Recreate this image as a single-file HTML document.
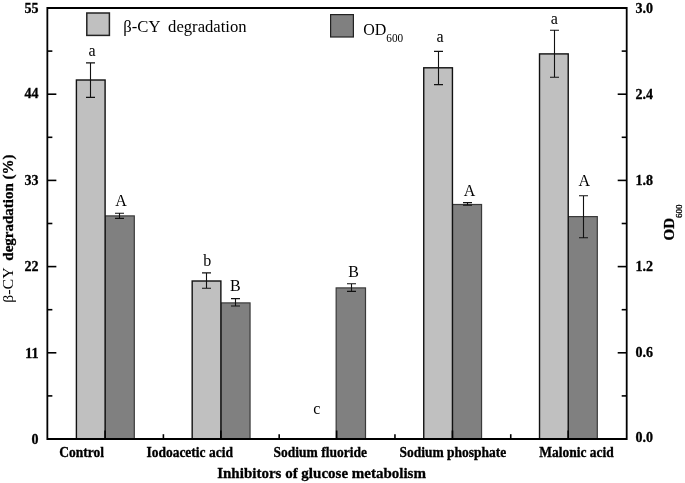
<!DOCTYPE html><html><head><meta charset="utf-8"><style>html,body{margin:0;padding:0;background:#fff;}svg{display:block;filter:grayscale(1)}text{font-family:"Liberation Serif",serif;white-space:pre;}text[font-weight="bold"]{stroke:#000;stroke-width:0.3px;}</style></head><body>
<svg width="685" height="483" viewBox="0 0 685 483">
<rect width="685" height="483" fill="#fff"/>
<rect x="105.10" y="215.90" width="29.20" height="223.10" fill="#808080" stroke="#3a3a3a" stroke-width="1.2"/>
<rect x="76.40" y="80.00" width="28.70" height="359.00" fill="#c0c0c0" stroke="#111" stroke-width="1.4"/>
<rect x="220.88" y="302.90" width="29.17" height="136.10" fill="#808080" stroke="#3a3a3a" stroke-width="1.2"/>
<rect x="192.18" y="281.00" width="28.70" height="158.00" fill="#c0c0c0" stroke="#111" stroke-width="1.4"/>
<rect x="336.16" y="287.90" width="29.34" height="151.10" fill="#808080" stroke="#3a3a3a" stroke-width="1.2"/>
<rect x="452.44" y="204.50" width="29.11" height="234.50" fill="#808080" stroke="#3a3a3a" stroke-width="1.2"/>
<rect x="423.74" y="67.80" width="28.70" height="371.20" fill="#c0c0c0" stroke="#111" stroke-width="1.4"/>
<rect x="568.22" y="216.60" width="29.08" height="222.40" fill="#808080" stroke="#3a3a3a" stroke-width="1.2"/>
<rect x="539.52" y="53.90" width="28.70" height="385.10" fill="#c0c0c0" stroke="#111" stroke-width="1.4"/>
<path d="M90.50 62.90V97.40M86.00 62.90H95.00M86.00 97.40H95.00" stroke="#111" stroke-width="1.1" fill="none"/>
<path d="M119.50 213.30V218.40M115.00 213.30H124.00M115.00 218.40H124.00" stroke="#111" stroke-width="1.1" fill="none"/>
<path d="M206.50 272.90V288.30M202.00 272.90H211.00M202.00 288.30H211.00" stroke="#111" stroke-width="1.1" fill="none"/>
<path d="M235.50 298.60V306.00M231.00 298.60H240.00M231.00 306.00H240.00" stroke="#111" stroke-width="1.1" fill="none"/>
<path d="M351.50 283.70V291.40M347.00 283.70H356.00M347.00 291.40H356.00" stroke="#111" stroke-width="1.1" fill="none"/>
<path d="M438.50 51.40V84.60M434.00 51.40H443.00M434.00 84.60H443.00" stroke="#111" stroke-width="1.1" fill="none"/>
<path d="M467.50 202.60V205.20M463.00 202.60H472.00M463.00 205.20H472.00" stroke="#111" stroke-width="1.1" fill="none"/>
<path d="M554.50 30.20V77.20M550.00 30.20H559.00M550.00 77.20H559.00" stroke="#111" stroke-width="1.1" fill="none"/>
<path d="M583.50 195.70V237.80M579.00 195.70H588.00M579.00 237.80H588.00" stroke="#111" stroke-width="1.1" fill="none"/>
<text x="92.0" y="55.8" font-size="16" text-anchor="middle" fill="#000">a</text>
<text x="121.0" y="205.7" font-size="16" text-anchor="middle" fill="#000">A</text>
<text x="207.2" y="266.2" font-size="16" text-anchor="middle" fill="#000">b</text>
<text x="235.4" y="290.7" font-size="16" text-anchor="middle" fill="#000">B</text>
<text x="316.9" y="414.0" font-size="16" text-anchor="middle" fill="#000">c</text>
<text x="353.7" y="277.2" font-size="16" text-anchor="middle" fill="#000">B</text>
<text x="440.0" y="41.7" font-size="16" text-anchor="middle" fill="#000">a</text>
<text x="469.5" y="196.0" font-size="16" text-anchor="middle" fill="#000">A</text>
<text x="554.3" y="24.2" font-size="16" text-anchor="middle" fill="#000">a</text>
<text x="584.3" y="186.0" font-size="16" text-anchor="middle" fill="#000">A</text>
<path d="M47.35 8.0H626.7V439.0H47.35Z" fill="none" stroke="#000" stroke-width="1.8"/>
<path d="M47.35 439.00H56.35" stroke="#000" stroke-width="1.6"/>
<text x="38.4" y="443.75" font-size="14" font-weight="bold" text-anchor="end">0</text>
<path d="M47.35 352.80H56.35" stroke="#000" stroke-width="1.6"/>
<text x="38.4" y="357.55" font-size="14" font-weight="bold" text-anchor="end">11</text>
<path d="M47.35 266.60H56.35" stroke="#000" stroke-width="1.6"/>
<text x="38.4" y="270.80" font-size="14" font-weight="bold" text-anchor="end">22</text>
<path d="M47.35 180.40H56.35" stroke="#000" stroke-width="1.6"/>
<text x="38.4" y="184.65" font-size="14" font-weight="bold" text-anchor="end">33</text>
<path d="M47.35 94.20H56.35" stroke="#000" stroke-width="1.6"/>
<text x="38.4" y="98.25" font-size="14" font-weight="bold" text-anchor="end">44</text>
<path d="M47.35 8.00H56.35" stroke="#000" stroke-width="1.6"/>
<text x="38.4" y="12.95" font-size="14" font-weight="bold" text-anchor="end">55</text>
<path d="M47.35 395.90H52.35" stroke="#000" stroke-width="1.6"/>
<path d="M47.35 309.70H52.35" stroke="#000" stroke-width="1.6"/>
<path d="M47.35 223.50H52.35" stroke="#000" stroke-width="1.6"/>
<path d="M47.35 137.30H52.35" stroke="#000" stroke-width="1.6"/>
<path d="M47.35 51.10H52.35" stroke="#000" stroke-width="1.6"/>
<path d="M626.7 439.00H617.7" stroke="#000" stroke-width="1.6"/>
<text x="635.6" y="441.80" font-size="14" font-weight="bold">0.0</text>
<path d="M626.7 352.80H617.7" stroke="#000" stroke-width="1.6"/>
<text x="635.6" y="357.45" font-size="14" font-weight="bold">0.6</text>
<path d="M626.7 266.60H617.7" stroke="#000" stroke-width="1.6"/>
<text x="635.6" y="270.90" font-size="14" font-weight="bold">1.2</text>
<path d="M626.7 180.40H617.7" stroke="#000" stroke-width="1.6"/>
<text x="635.6" y="184.55" font-size="14" font-weight="bold">1.8</text>
<path d="M626.7 94.20H617.7" stroke="#000" stroke-width="1.6"/>
<text x="635.6" y="98.95" font-size="14" font-weight="bold">2.4</text>
<path d="M626.7 8.00H617.7" stroke="#000" stroke-width="1.6"/>
<text x="635.6" y="12.95" font-size="14" font-weight="bold">3.0</text>
<path d="M626.7 395.90H621.7" stroke="#000" stroke-width="1.6"/>
<path d="M626.7 309.70H621.7" stroke="#000" stroke-width="1.6"/>
<path d="M626.7 223.50H621.7" stroke="#000" stroke-width="1.6"/>
<path d="M626.7 137.30H621.7" stroke="#000" stroke-width="1.6"/>
<path d="M626.7 51.10H621.7" stroke="#000" stroke-width="1.6"/>
<path d="M105.10 439.0V430.5" stroke="#000" stroke-width="1.6"/>
<path d="M163.40 439.0V434.2" stroke="#000" stroke-width="1.6"/>
<path d="M220.88 439.0V430.5" stroke="#000" stroke-width="1.6"/>
<path d="M279.18 439.0V434.2" stroke="#000" stroke-width="1.6"/>
<path d="M336.66 439.0V430.5" stroke="#000" stroke-width="1.6"/>
<path d="M394.96 439.0V434.2" stroke="#000" stroke-width="1.6"/>
<path d="M452.44 439.0V430.5" stroke="#000" stroke-width="1.6"/>
<path d="M510.74 439.0V434.2" stroke="#000" stroke-width="1.6"/>
<path d="M568.22 439.0V430.5" stroke="#000" stroke-width="1.6"/>
<text transform="translate(59.3 456.8) scale(1 1.13)" font-size="13.5" font-weight="bold">Control</text>
<text transform="translate(146.4 456.8) scale(1 1.13)" font-size="13.5" font-weight="bold">Iodoacetic acid</text>
<text transform="translate(273.6 456.8) scale(1 1.13)" font-size="13.5" font-weight="bold">Sodium fluoride</text>
<text transform="translate(399.5 456.8) scale(1 1.13)" font-size="13.5" font-weight="bold">Sodium phosphate</text>
<text transform="translate(539.3 456.8) scale(1 1.13)" font-size="13.5" font-weight="bold">Malonic acid</text>
<text x="217.2" y="478.1" font-size="15" font-weight="bold">Inhibitors of glucose metabolism</text>
<text transform="translate(13.0 302.7) rotate(-90) scale(1.055 1)" font-size="15">β-CY</text>
<text transform="translate(13.0 260.7) rotate(-90)" font-size="15" font-weight="bold">degradation (%)</text>
<text transform="translate(674.1 240.4) rotate(-90)" font-size="15" font-weight="bold">OD<tspan font-size="9" font-weight="normal" dy="8.0">600</tspan></text>
<rect x="86.8" y="13.0" width="22.6" height="22.4" fill="#c0c0c0" stroke="#222" stroke-width="1.5"/>
<text transform="translate(123.3 31.9) scale(1.04 1)" font-size="16" xml:space="preserve">β-CY  degradation</text>
<rect x="330.6" y="14.6" width="22.8" height="22.4" fill="#808080" stroke="#222" stroke-width="1.2"/>
<text x="363.2" y="34.6" font-size="16">OD</text>
<text transform="translate(386.3 42.2) scale(0.9 1)" font-size="12.5">600</text>
</svg></body></html>
